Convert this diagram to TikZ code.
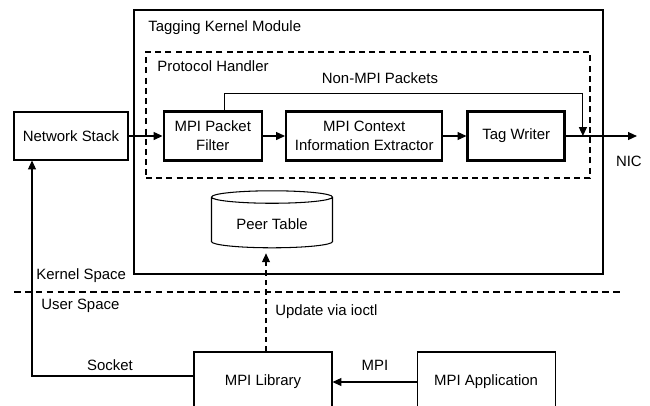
\documentclass[tikz,border=0pt]{standalone}
\usepackage{fontspec}
\setmainfont{Liberation Sans}
\usetikzlibrary{positioning,shapes.geometric,arrows.meta,calc}

\begin{document}
\begin{tikzpicture}[
    % Plain line-art styles
    plain_box/.style={rectangle, draw, line width=0.6pt, align=center,
                      minimum height=0.96cm, inner sep=2pt},
    stage_box/.style={rectangle, draw, line width=1.4pt, align=center,
                      minimum height=0.98cm, inner sep=2pt},
    user_box/.style={rectangle, draw, line width=0.6pt, align=center,
                     minimum width=2.76cm, minimum height=1.2cm},
    region_box/.style={rectangle, draw, line width=0.6pt, inner sep=0pt},
    handler_box/.style={region_box, dash pattern=on 3.4pt off 2.4pt},
    table_store/.style={cylinder, shape border rotate=90, draw, line width=0.6pt,
                        aspect=0.15, minimum width=2.42cm, minimum height=1.14cm},
    tag_label/.style={inner sep=0pt},
    pkt_flow/.style={-{Triangle[length=5pt,width=4.5pt]}, line width=0.6pt},
    ctl_flow/.style={pkt_flow, dash pattern=on 3pt off 2.4pt},
    space_line/.style={line width=0.6pt, dash pattern=on 3.8pt off 2.4pt},
    font=\fontsize{8.5}{10.8}\selectfont
]
\useasboundingbox (0,0) rectangle (13,-8.1);

% Kernel module and protocol handler regions
\node[region_box, minimum width=9.38cm, minimum height=5.28cm] (kernel) at (7.37,-2.84) {};
\node[handler_box, minimum width=8.88cm, minimum height=2.52cm] (handler) at (7.36,-2.30) {};
\node[tag_label, anchor=west] (kernel_lbl) at (2.96,-0.56) {Tagging Kernel Module};
\node[tag_label, anchor=west] (handler_lbl) at (3.14,-1.32) {Protocol Handler};

% Packet path
\node[plain_box, minimum width=2.28cm] (netstack) at (1.42,-2.72) {Network Stack};
\node[stage_box, minimum width=1.96cm, right=0.68cm of netstack] (filter) {MPI Packet\\Filter};
\node[stage_box, minimum width=3.12cm, right=0.44cm of filter] (extractor) {MPI Context\\Information Extractor};
\node[stage_box, minimum width=1.94cm, right=0.46cm of extractor] (tagwriter) {Tag Writer};
\coordinate[right=1.42cm of tagwriter] (nic_pt);
\coordinate[right=0.34cm of tagwriter] (merge_pt);
\node[tag_label, below=0.4cm of nic_pt, xshift=-0.16cm] (nic_lbl) {NIC};

\draw[pkt_flow] (netstack) -- (filter);
\draw[pkt_flow] (filter) -- (extractor);
\draw[pkt_flow] (extractor) -- (tagwriter);
\draw[pkt_flow] (tagwriter) -- (nic_pt);

% Bypass for non-MPI traffic
\coordinate (bypass) at ($(filter.north)+(0.24,0.34)$);
\draw[pkt_flow] ([xshift=0.24cm]filter.north) -- (bypass) -| (merge_pt);
\node[tag_label] (bypass_lbl) at (7.6,-1.56) {Non-MPI Packets};

% Peer table
\node[table_store] (peer) at (5.44,-4.48) {Peer Table};

% Kernel / user boundary
\coordinate (sep_l) at (0.28,-5.84);
\coordinate (sep_r) at (12.4,-5.84);
\draw[space_line] (sep_l) -- (sep_r);
\node[tag_label, anchor=west] (kspace_lbl) at (0.72,-5.52) {Kernel Space};
\node[tag_label, anchor=west] (uspace_lbl) at (0.82,-6.12) {User Space};

% User space
\node[user_box] (library) at (5.26,-7.64) {MPI Library};
\node[user_box, right=1.68cm of library] (app) {MPI Application};

\coordinate (upd_pt) at ([xshift=0.06cm]library.north);
\draw[ctl_flow] (upd_pt) -- ([yshift=-0.1cm]upd_pt |- peer.south);
\node[tag_label, anchor=west] (upd_lbl) at (5.5,-6.24) {Update via ioctl};

\draw[pkt_flow] ([yshift=0.12cm]library.west) -| ([xshift=-0.78cm]netstack.south);
\node[tag_label] (socket_lbl) at (2.2,-7.3) {Socket};

\draw[pkt_flow] (app) -- (library);
\node[tag_label] (mpi_lbl) at (7.5,-7.3) {MPI};

\end{tikzpicture}
\end{document}
